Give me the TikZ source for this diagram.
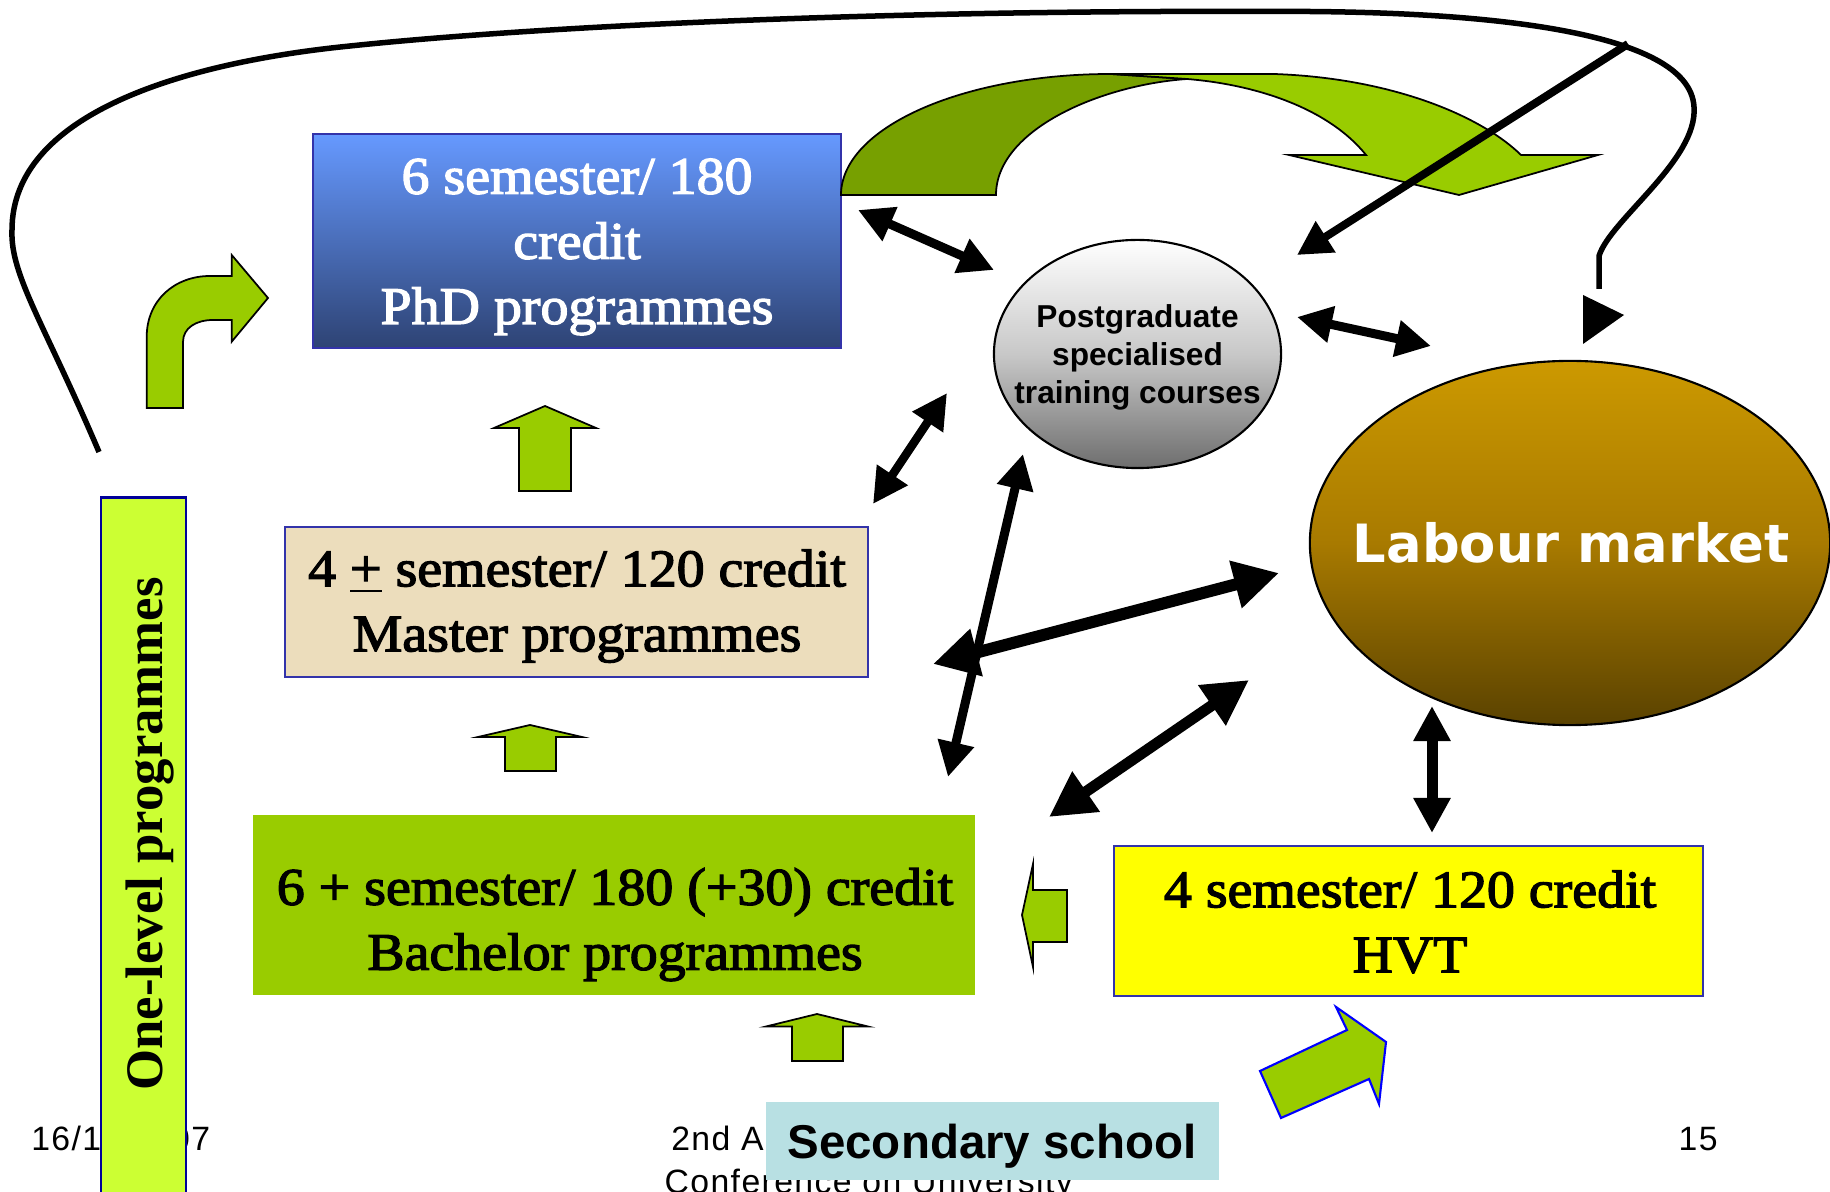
\documentclass[tikz,border=0pt]{standalone}
\usepackage{fontspec}
\usepackage{graphicx}
\setmainfont{Liberation Serif}
\newfontfamily\boxf[FakeBold=2.5, FakeStretch=1.06]{Liberation Serif}
\newfontfamily\sansf{Liberation Sans}
\newfontfamily\dejaf{DejaVu Sans}
\newfontfamily\footf[LetterSpace=4.1]{Liberation Sans}
\usetikzlibrary{arrows.meta,shapes.geometric}
\definecolor{grn}{HTML}{99CC00}
\definecolor{grndark}{HTML}{77A000}
\definecolor{phdtop}{HTML}{6699FF}
\definecolor{phdbot}{HTML}{2E4374}
\definecolor{bordblue}{HTML}{3333AA}
\definecolor{navy}{HTML}{000099}
\definecolor{parch}{HTML}{ECDDBC}
\definecolor{limeg}{HTML}{CCFF33}
\definecolor{hvtyel}{HTML}{FFFF00}
\definecolor{lmtop}{HTML}{CC9900}
\definecolor{lmmid}{HTML}{A87A00}
\definecolor{lmbot}{HTML}{5A4200}
\definecolor{pgmid}{HTML}{C8C8C8}
\definecolor{pgbot}{HTML}{6E6E6E}
\definecolor{secblue}{HTML}{B8E0E3}
\tikzset{
  boxshape/.style={rectangle, inner sep=0pt, line width=0.6pt},
  boxtext/.style={align=center, inner sep=0pt, anchor=north, font=\boxf\fontsize{15}{18.5}\selectfont},
  blockarrow/.style={fill=grn, draw=black, line width=0.5pt, line join=miter},
  twohead/.style={line width=#1, arrows={Triangle[length=0.35cm,width=0.35cm]-Triangle[length=0.35cm,width=0.35cm]}},
  bighead/.style={line width=#1, arrows={Triangle[length=0.45cm,width=0.46cm]-Triangle[length=0.45cm,width=0.46cm]}},
  foot/.style={anchor=base west, inner sep=0pt, font=\footf\fontsize{9.6}{11}\selectfont},
  ellshape/.style={ellipse, draw=black, line width=0.6pt, inner sep=0pt},
}
\begin{document}
\begin{tikzpicture}[x=0.01cm, y=-0.01cm]
\useasboundingbox (0,0) rectangle (1830,1192);
\clip (0,0) rectangle (1830,1192);

% footer texts (partly hidden)
\node[foot] (date) at (30.6,1150) {16/11/2007};
\node[foot] (conf1) at (670.6,1150) {2nd A};
\node[foot] (conf2) at (664,1193) {Conference on University};
\node[foot] (pagenum) at (1678,1150) {15};

% boxes
\node[boxshape, draw=bordblue, top color=phdtop, bottom color=phdbot, minimum width=5.28cm, minimum height=2.14cm] (phd) at (577,241) {};
\node[boxtext, text=white] (phdtext) at (577,147.5) {\strut 6 semester/ 180\\\strut credit\\\strut PhD programmes};

\node[boxshape, draw=bordblue, fill=parch, minimum width=5.83cm, minimum height=1.50cm] (master) at (576.5,602) {};
\node[boxtext] (mastertext) at (577,540) {\strut 4 \underline{+} semester/ 120 credit\\\strut Master programmes};

\node[boxshape, fill=grn, minimum width=7.22cm, minimum height=1.80cm] (bachelor) at (614,905) {};
\node[boxtext] (bachelortext) at (615,858.5) {\strut 6 + semester/ 180 (+30) credit\\\strut Bachelor programmes};

\node[boxshape, draw=bordblue, fill=hvtyel, minimum width=5.89cm, minimum height=1.50cm] (hvt) at (1408.5,921) {};
\node[boxtext] (hvttext) at (1410,861) {\strut 4 semester/ 120 credit\\\strut HVT};

\node[boxshape, draw=navy, fill=limeg, line width=0.8pt, minimum width=0.85cm, minimum height=7.1cm] (onelevel) at (143.5,853) {};
\node[rotate=90, anchor=base, inner sep=0pt, font=\bfseries\fontsize{15}{18}\selectfont] (oltext) at (162,834) {One-level programmes};

\node[boxshape, fill=secblue, minimum width=4.53cm, minimum height=0.78cm] (sec) at (992.5,1141) {};
\node[anchor=base, inner sep=0pt, font=\sansf\bfseries\fontsize{13.5}{16}\selectfont] (sectext) at (992,1159) {Secondary school};

% ellipses
\node[ellshape, minimum width=2.87cm, minimum height=2.28cm,
      top color=white, bottom color=pgbot, middle color=pgmid] (pg) at (1137.5,354) {};
\node[align=center, anchor=north, inner sep=0pt, font=\sansf\bfseries\fontsize{9}{10.8}\selectfont] (pgtext) at (1137.5,300.4)
      {\strut Postgraduate\\\strut specialised\\\strut training courses};
\node[ellshape, minimum width=5.2cm, minimum height=3.64cm,
      top color=lmtop, bottom color=lmbot, middle color=lmmid] (lm) at (1570,543) {};
\node[anchor=base, inner sep=0pt, text=white, font=\dejaf\bfseries\fontsize{15}{18}\selectfont] (lmtext) at (1571,563) {Labour market};

% green block arrows
\path[blockarrow] (545,406) -- (596,428) -- (571,428) -- (571,491) -- (519,491) -- (519,428) -- (494,428) -- cycle;
\path[blockarrow] (530,725) -- (582,737) -- (556,737) -- (556,771) -- (505,771) -- (505,737) -- (478,737) -- cycle;
\path[blockarrow] (817,1014) -- (868,1026.5) -- (843,1026.5) -- (843,1061) -- (792,1061) -- (792,1026.5) -- (766,1026.5) -- cycle;
\path[blockarrow] (1033,864) -- (1022,915) -- (1033,967) -- (1033,942) -- (1067,942) -- (1067,890) -- (1033,890) -- cycle;
\path[blockarrow, draw=blue, line width=0.6pt] (1260,1071) -- (1347,1030) -- (1336,1007) -- (1386,1042) -- (1379,1104) -- (1369,1079) -- (1281,1118) -- cycle;
\path[blockarrow] (146.7,408) -- (146.7,337) .. controls (146.7,300) and (175,276) .. (210,276) -- (231.7,276) -- (231.7,255) -- (268,298) -- (231.7,341.7) -- (231.7,320) -- (213,320) .. controls (196,320) and (183,328) .. (183,342) -- (183,408) -- cycle;

% big curved green arrow
\path[blockarrow, fill=grndark] (841,195) .. controls (841,128) and (962,74) .. (1111,74) -- (1187,79) .. controls (1100,85) and (996,130) .. (996,195) -- cycle;
\path[blockarrow] (1111,74) -- (1274,74) .. controls (1390,78) and (1480,115) .. (1521,155) -- (1598,155) -- (1459,195) -- (1289,155) -- (1366,155) .. controls (1330,110) and (1260,85) .. (1187,79) -- cycle;

% big black loop
\coordinate (c0) at (99,452);
\coordinate (c1) at (1599,289);
\draw[line width=0.055cm] (c0) .. controls (45,325) and (10,275) .. (12,230)
  .. controls (12,115) and (180,63) .. (350,46)
  .. controls (550,25) and (900,10) .. (1265,11.5)
  .. controls (1480,10) and (1690,30) .. (1694,107)
  .. controls (1698,160) and (1610,220) .. (1599,256) -- (c1);
\fill (1583,295) -- (1624,315) -- (1583,344) -- cycle;

% arrow end points
\coordinate (a1) at (858,210);  \coordinate (a2) at (994,270);
\coordinate (b1) at (1297,317); \coordinate (b2) at (1431,346);
\coordinate (cc1) at (873,504); \coordinate (cc2) at (947,393);
\coordinate (d1) at (948,777);  \coordinate (d2) at (1023,454);
\coordinate (e1) at (933,664);  \coordinate (e2) at (1279,573);
\coordinate (f1) at (1049,817); \coordinate (f2) at (1249,680);
\coordinate (g1) at (1432,706); \coordinate (g2) at (1432,833);
\coordinate (t1) at (1628,44);  \coordinate (t2) at (1297,255);

\draw[twohead=0.09cm] (a1) -- (a2);
\draw[twohead=0.09cm] (b1) -- (b2);
\draw[twohead=0.085cm] (cc1) -- (cc2);
\draw[twohead=0.09cm] (d1) -- (d2);
\draw[bighead=0.12cm] (e1) -- (e2);
\draw[bighead=0.11cm] (f1) -- (f2);
\draw[twohead=0.11cm] (g1) -- (g2);
\draw[line width=0.08cm, arrows={-Triangle[length=0.34cm,width=0.35cm]}] (t1) -- (t2);
\end{tikzpicture}
\end{document}
